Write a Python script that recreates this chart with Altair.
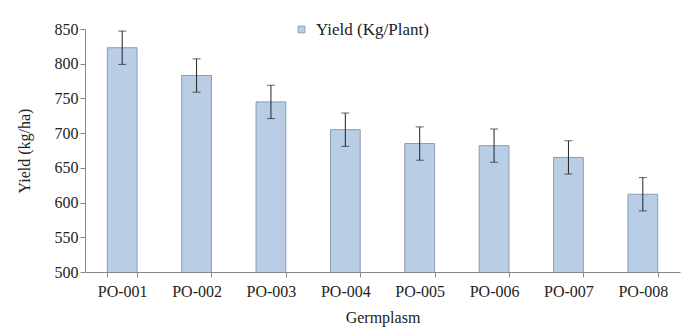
import altair as alt
import pandas as pd

germplasm = ["PO-001", "PO-002", "PO-003", "PO-004", "PO-005", "PO-006", "PO-007", "PO-008"]
yields = [823, 783, 745, 705, 685, 682, 665, 612]
errors = [24, 24, 24, 24, 24, 24, 24, 24]
series = ["Yield (Kg/Plant)"] * len(germplasm)
yticks = [500, 550, 600, 650, 700, 750, 800, 850]

df = pd.DataFrame({"g": germplasm, "y": yields, "e": errors, "s": series})
df["lo"] = df["y"] - df["e"]
df["hi"] = df["y"] + df["e"]

FONT = "Liberation Serif"
TXT = "#222"
AX = "#868686"

xaxis = alt.Axis(labelAngle=0, tickBand="extent", labelPadding=6, titlePadding=10,
                 labelFont=FONT, titleFont=FONT, labelFontSize=16, titleFontSize=16,
                 titleFontWeight="normal", labelColor=TXT, titleColor=TXT,
                 domainColor=AX, tickColor=AX, tickSize=5, grid=False)
yaxis = alt.Axis(values=yticks, labelOverlap=False, titlePadding=22,
                 labelFont=FONT, titleFont=FONT, labelFontSize=16, titleFontSize=16,
                 titleFontWeight="normal", labelColor=TXT, titleColor=TXT,
                 domainColor=AX, tickColor=AX, tickSize=5, grid=False)
yscale = alt.Scale(domain=[500, 850], zero=False, nice=False)
xscale = alt.Scale(paddingInner=0.6, paddingOuter=0.3)

X = alt.X("g:N", title="Germplasm", sort=germplasm, scale=xscale, axis=xaxis)

bars = alt.Chart(df).mark_bar(stroke="#8a9bb5", strokeWidth=1, clip=True).encode(
    x=X,
    y=alt.Y("y:Q", title="Yield (kg/ha)", scale=yscale, axis=yaxis),
    color=alt.Color("s:N", title=None,
                    scale=alt.Scale(range=["#b9cde5"]),
                    legend=alt.Legend(orient="none", legendX=208, legendY=-8,
                                      symbolType="square", symbolSize=45,
                                      symbolStrokeColor="#8a9bb5", symbolStrokeWidth=1,
                                      labelOffset=6, labelFontWeight="normal",
                                      labelFont=FONT, labelFontSize=17, labelColor=TXT)),
)

rule = alt.Chart(df).mark_rule(color="#222", strokeWidth=1).encode(
    x=X, y=alt.Y("lo:Q", title="Yield (kg/ha)", scale=yscale, axis=yaxis), y2="hi:Q")
cap_hi = alt.Chart(df).mark_tick(color="#222", size=8, thickness=1, orient="horizontal").encode(
    x=X, y=alt.Y("hi:Q", title="Yield (kg/ha)", scale=yscale, axis=yaxis))
cap_lo = alt.Chart(df).mark_tick(color="#222", size=8, thickness=1, orient="horizontal").encode(
    x=X, y=alt.Y("lo:Q", title="Yield (kg/ha)", scale=yscale, axis=yaxis))

chart = alt.layer(bars, rule, cap_hi, cap_lo).properties(
    width=595, height=243,
    autosize=alt.AutoSizeParams(type="none"),
    padding={"left": 77, "top": 21, "right": 1, "bottom": 55},
).configure_view(stroke=None)

chart.save("out.html", embed_options={"renderer": "svg", "actions": False})
